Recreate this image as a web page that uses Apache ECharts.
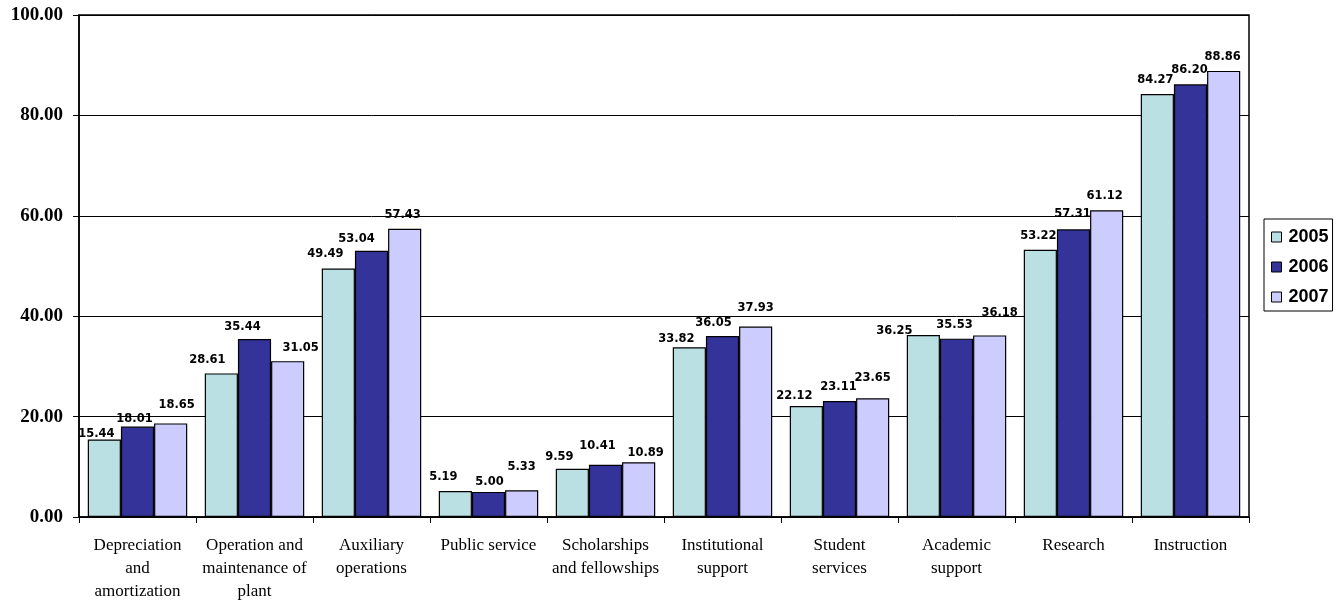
<!DOCTYPE html>
<html><head><meta charset="utf-8">
<script src="https://cdn.jsdelivr.net/npm/echarts@6/dist/echarts.min.js"></script>
<style>html,body{margin:0;padding:0;background:#fff}#c{width:1338px;height:600px}</style>
</head><body><div id="c"></div>
<script>
const categories = ["Depreciation\nand\namortization","Operation and\nmaintenance of\nplant","Auxiliary\noperations","Public service","Scholarships\nand fellowships","Institutional\nsupport","Student\nservices","Academic\nsupport","Research","Instruction"];
const seriesNames = ["2005","2006","2007"];
const values2005 = [15.44,28.61,49.49,5.19,9.59,33.82,22.12,36.25,53.22,84.27];
const values2006 = [18.01,35.44,53.04,5.00,10.41,36.05,23.11,35.53,57.31,86.20];
const values2007 = [18.65,31.05,57.43,5.33,10.89,37.93,23.65,36.18,61.12,88.86];
const yTicks = {min:0,max:100,interval:20};

// styling: colours and small label nudges [dx, dy] that mimic the reference's label placement
const colors = ["#BBE0E3","#333399","#CCCCFF"];
const labelNudges = [
  [[-8,9],[-14,1],[-13,-1],[-12,0],[-13,2],[-13,6],[-12,4],[-29,10],[-2,0],[-2,0]],
  [[-3,6],[-12,2],[-15,2],[1,4],[-8,-5],[-9,1],[-1,0],[-2,0],[-1,-1],[-1,0]],
  [[6,-4],[13,1],[-2,0],[0,-9],[7,5],[0,-5],[0,-6],[10,-8],[-2,0],[-1,0]]
];

const allValues = [values2005, values2006, values2007];
const chart = echarts.init(document.getElementById('c'));
chart.setOption({
  animation:false,
  backgroundColor:'#fff',
  grid:{left:79,right:89,top:15,bottom:83,show:true,borderColor:'#000',borderWidth:1.5,backgroundColor:'transparent',outerBoundsMode:'none',containLabel:false},
  legend:{
    orient:'vertical',left:1264,top:219,
    data:seriesNames,icon:'rect',
    itemWidth:10,itemHeight:10,itemGap:12,
    borderColor:'#000',borderWidth:1,padding:[9,4,5,7],
    textStyle:{fontFamily:'Liberation Sans',fontWeight:'bold',fontSize:18,color:'#000',padding:[0,0,0,2]},
    itemStyle:{borderColor:'#000',borderWidth:1}
  },
  xAxis:{
    type:'category',data:categories,
    axisLine:{lineStyle:{color:'#000',width:1.5}},
    axisTick:{show:true,length:6,lineStyle:{color:'#000'}},
    axisLabel:{interval:0,fontFamily:'Liberation Serif',fontSize:17,color:'#000',lineHeight:23,margin:17,align:'center'}
  },
  yAxis:{
    type:'value',min:yTicks.min,max:yTicks.max,interval:yTicks.interval,
    axisLine:{show:true,lineStyle:{color:'#000',width:1.5}},
    axisTick:{show:true,length:6,lineStyle:{color:'#000'}},
    splitLine:{lineStyle:{color:'#000',width:1}},
    axisLabel:{fontFamily:'Liberation Serif',fontWeight:'bold',fontSize:19,color:'#000',margin:16,formatter:v=>v.toFixed(2)}
  },
  series: seriesNames.map((n,i)=>({
    name:n,type:'bar',
    data:allValues[i].map((v,j)=>({value:v,label:{offset:labelNudges[i][j]}})),
    barGap:'0%',barCategoryGap:'15%',
    itemStyle:{color:colors[i],borderColor:'#000',borderWidth:1.2},
    label:{show:true,position:'top',distance:8,fontFamily:'DejaVu Sans',fontWeight:'bold',fontSize:11.5,color:'#000',formatter:p=>p.value.toFixed(2)}
  }))
});
</script></body></html>
